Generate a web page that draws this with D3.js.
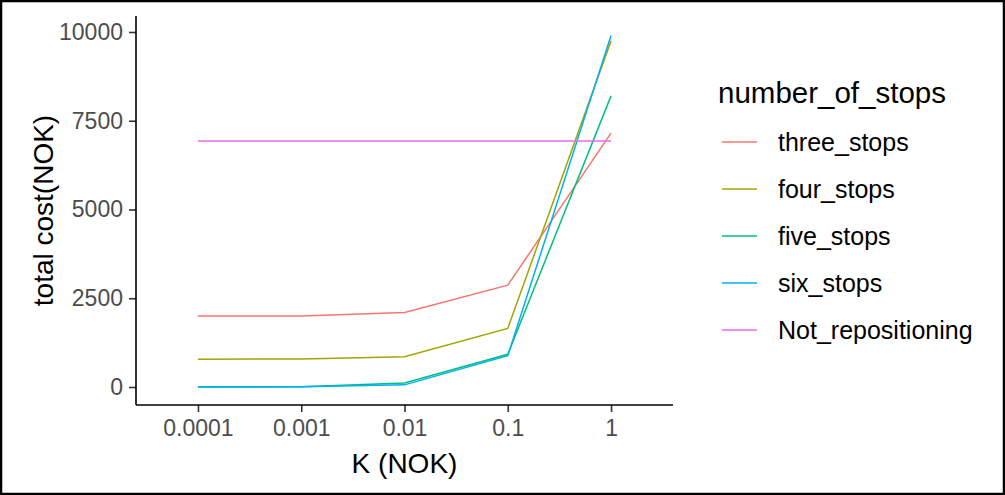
<!DOCTYPE html>
<html>
<head>
<meta charset="utf-8">
<script src="https://cdn.jsdelivr.net/npm/d3@7"></script>
<style>
  body { margin: 0; background: #fff; }
  svg { display: block; font-family: "Liberation Sans", Arial, sans-serif; }
</style>
</head>
<body>
<script>
// values
var kValues = ["0.0001", "0.001", "0.01", "0.1", "1"];
var threeStops = [2000, 2000, 2100, 2870, 7150];
var fourStops = [780, 790, 850, 1650, 9750];
var fiveStops = [0, 10, 110, 920, 8200];
var sixStops = [0, 5, 60, 880, 9900];
var notRepositioning = [6930, 6930, 6930, 6930, 6930];
var seriesNames = ["three_stops", "four_stops", "five_stops", "six_stops", "Not_repositioning"];
var yTicks = [0, 2500, 5000, 7500, 10000];

var colors = ["#F8766D", "#A3A500", "#00BF7D", "#00B0F6", "#E76BF3"];
var allSeries = [threeStops, fourStops, fiveStops, sixStops, notRepositioning];

var svgWidth = 1005;
var svgHeight = 495;

var svg = d3.select("body")
  .append("svg")
  .attr("width", svgWidth)
  .attr("height", svgHeight);

// panel edges
var panelLeft = 136, panelRight = 673, panelTop = 16, panelBottom = 405;

// discrete x, like a factor in ggplot (0.6 step expansion on each side)
var x = d3.scalePoint()
  .domain(kValues)
  .range([panelLeft, panelRight])
  .padding(0.6);

var y = d3.scaleLinear()
  .domain([0, 10000])
  .range([387, 32]);

// lines
var line = d3.line()
  .x(function(d, i) { return x(kValues[i]); })
  .y(function(d) { return y(d); });

allSeries.forEach(function(vals, s) {
  svg.append("path")
    .datum(vals)
    .attr("d", line)
    .attr("fill", "none")
    .attr("stroke", colors[s])
    .attr("stroke-width", 1.5);
});

// axes
var leftAxis = d3.axisLeft(y).tickValues(yTicks).tickFormat(d3.format("d"))
  .tickSize(7).tickPadding(6).tickSizeOuter(0);
var bottomAxis = d3.axisBottom(x).tickSize(7).tickPadding(8).tickSizeOuter(0);

var gy = svg.append("g")
  .attr("transform", "translate(" + panelLeft + ",0)")
  .call(leftAxis);
gy.select(".domain").remove();
gy.append("line")
  .attr("x1", 0).attr("x2", 0)
  .attr("y1", panelTop).attr("y2", panelBottom)
  .attr("stroke", "#000").attr("stroke-width", 1.6);

var gx = svg.append("g")
  .attr("transform", "translate(0," + panelBottom + ")")
  .call(bottomAxis);
gx.select(".domain").remove();
gx.append("line")
  .attr("x1", panelLeft).attr("x2", panelRight)
  .attr("y1", 0).attr("y2", 0)
  .attr("stroke", "#000").attr("stroke-width", 1.6);

[gx, gy].forEach(function(g) {
  g.selectAll(".tick line").attr("stroke", "#333").attr("stroke-width", 1.6);
  g.selectAll(".tick text")
    .attr("fill", "#4D4D4D")
    .style("font-size", "23px");
});

// axis titles
svg.append("text")
  .attr("x", (panelLeft + panelRight) / 2)
  .attr("y", 473)
  .attr("text-anchor", "middle")
  .style("font-size", "28px")
  .attr("fill", "#000")
  .text("K (NOK)");

svg.append("text")
  .attr("transform", "translate(53," + ((panelTop + panelBottom) / 2) + ") rotate(-90)")
  .attr("text-anchor", "middle")
  .style("font-size", "28px")
  .attr("fill", "#000")
  .text("total cost(NOK)");

// legend
var legend = svg.append("g");
legend.append("text")
  .attr("x", 718)
  .attr("y", 103)
  .style("font-size", "29.5px")
  .attr("fill", "#000")
  .text("number_of_stops");

seriesNames.forEach(function(name, i) {
  var ly = 142 + i * 47;
  legend.append("line")
    .attr("x1", 722).attr("x2", 757)
    .attr("y1", ly).attr("y2", ly)
    .attr("stroke", colors[i])
    .attr("stroke-width", 1.5);
  legend.append("text")
    .attr("x", 778)
    .attr("y", ly)
    .attr("dy", "0.35em")
    .style("font-size", "25px")
    .attr("fill", "#000")
    .text(name);
});

// frame round the screenshot
svg.append("rect")
  .attr("x", 1).attr("y", 1)
  .attr("width", svgWidth - 2).attr("height", svgHeight - 2)
  .attr("fill", "none")
  .attr("stroke", "#000")
  .attr("stroke-width", 2.5);
</script>
</body>
</html>
